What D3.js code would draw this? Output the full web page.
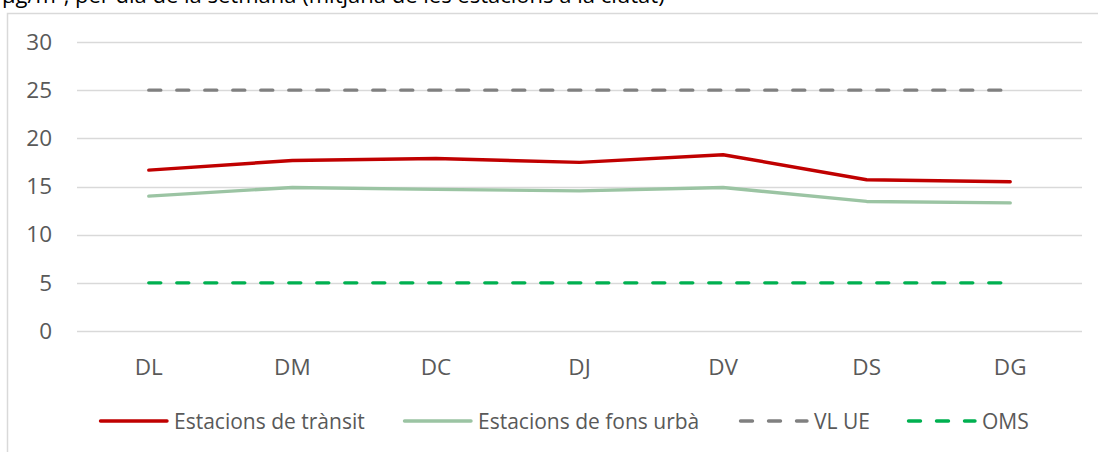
<!DOCTYPE html>
<html>
<head>
<meta charset="utf-8">
<script src="https://cdn.jsdelivr.net/npm/d3@7"></script>
<style>
  body { margin: 0; background: #fff; }
  svg { display: block; font-family: "Open Sans", sans-serif; }
</style>
</head>
<body>
<svg width="1098" height="452"></svg>
<script>
const dies = ["DL", "DM", "DC", "DJ", "DV", "DS", "DG"];
const transit = [16.7, 17.7, 17.9, 17.5, 18.3, 15.7, 15.5];
const fonsUrba = [14.0, 14.9, 14.7, 14.55, 14.9, 13.45, 13.3];
const vlUe = [25, 25, 25, 25, 25, 25, 25];
const oms = [5, 5, 5, 5, 5, 5, 5];
const yTicks = [0, 5, 10, 15, 20, 25, 30];

const series = [
  { nom: "Estacions de trànsit", vals: transit, color: "#C00000", dash: null },
  { nom: "Estacions de fons urbà", vals: fonsUrba, color: "#9BC4A3", dash: null },
  { nom: "VL UE", vals: vlUe, color: "#808080", dash: "12,16" },
  { nom: "OMS", vals: oms, color: "#00B050", dash: "12,16" }
];

const sv = d3.select("svg");

// titol tallat a dalt (com a la imatge original)
sv.append("text")
  .attr("x", 2).attr("y", 2.5)
  .attr("font-size", 22).attr("fill", "#000")
  .text("µg/m³, per dia de la setmana (mitjana de les estacions a la ciutat)");

// marc del grafic
sv.append("rect")
  .attr("x", 7.5).attr("y", 13.5)
  .attr("width", 1200).attr("height", 600)
  .attr("fill", "none").attr("stroke", "#d9d9d9").attr("stroke-width", 1.5);

const x = d3.scaleBand().domain(dies).range([77, 1082]);
const y = d3.scaleLinear().domain([0, 30]).range([331, 42]);

// graella
sv.append("g").selectAll("line").data(yTicks).enter().append("line")
  .attr("x1", 77).attr("x2", 1082)
  .attr("y1", d => Math.round(y(d)) + 0.5).attr("y2", d => Math.round(y(d)) + 0.5)
  .attr("stroke", "#d9d9d9").attr("stroke-width", 1.3);

const ya = sv.append("g").attr("transform", "translate(52,0)")
  .call(d3.axisLeft(y).tickValues(yTicks).tickSize(0).tickPadding(0));
ya.select(".domain").remove();
ya.selectAll("text").attr("font-size", 22.5).attr("fill", "#595959")
  .attr("font-family", "Open Sans, sans-serif");

const xa = sv.append("g").attr("transform", "translate(0,359)")
  .call(d3.axisBottom(x).tickSize(0).tickPadding(0));
xa.select(".domain").remove();
xa.selectAll("text").attr("font-size", 22.5).attr("fill", "#595959")
  .attr("font-family", "Open Sans, sans-serif");

const ln = d3.line()
  .x((d, i) => x(dies[i]) + x.bandwidth() / 2)
  .y(d => y(d));

sv.append("g").selectAll("path").data(series).enter().append("path")
  .attr("d", s => ln(s.vals))
  .attr("fill", "none")
  .attr("stroke", s => s.color)
  .attr("stroke-width", 3.4)
  .attr("stroke-linejoin", "round")
  .attr("stroke-linecap", "round")
  .attr("stroke-dasharray", s => s.dash);

// llegenda
const lx = [99, 403, 739, 907];
const lg = sv.append("g").selectAll("g").data(series).enter().append("g")
  .attr("transform", (s, i) => `translate(${lx[i]},421)`);
lg.append("line")
  .attr("x1", 1.5).attr("x2", 68)
  .attr("stroke", s => s.color).attr("stroke-width", 3.4)
  .attr("stroke-linecap", "round")
  .attr("stroke-dasharray", s => s.dash);
lg.append("text")
  .attr("x", 75).attr("y", 7.5)
  .attr("font-size", 21).attr("fill", "#595959")
  .text(s => s.nom);
</script>
</body>
</html>
